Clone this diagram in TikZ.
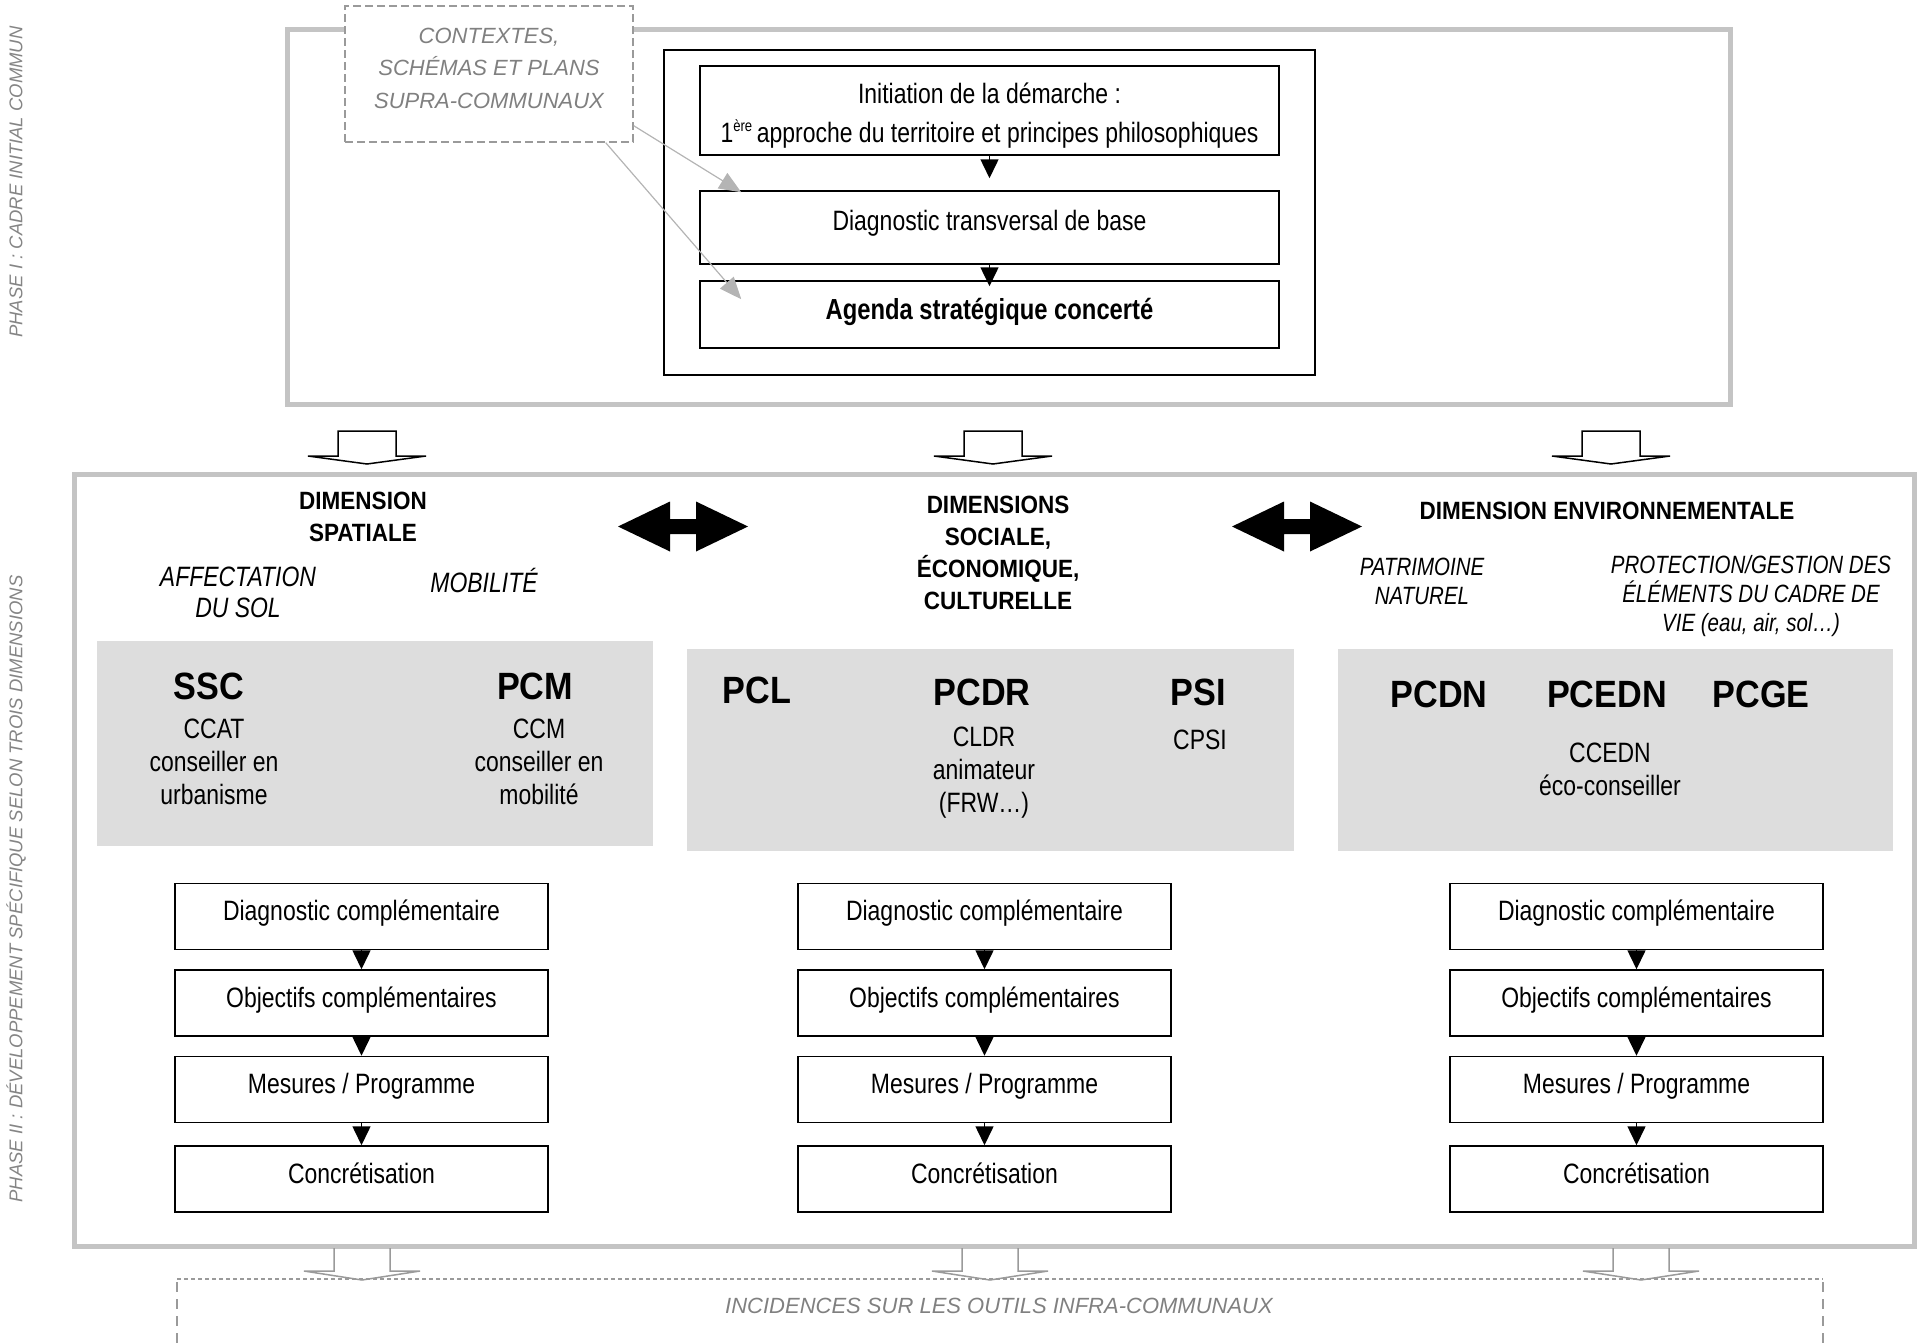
\documentclass[tikz,border=0pt]{standalone}
\usepackage{fontspec}
\setmainfont{Liberation Sans}
\newfontfamily\narrow{Liberation Sans}[FakeStretch=0.82]
\newfontfamily\boldnarrow{Liberation Sans}[FakeStretch=0.9]
\usetikzlibrary{arrows.meta,calc}

\definecolor{framegrey}{HTML}{C4C4C4}
\definecolor{panelgrey}{HTML}{DDDDDD}
\definecolor{notegrey}{HTML}{808080}
\definecolor{dashgrey}{HTML}{9A9A9A}
\definecolor{linkgrey}{HTML}{B4B4B4}
\definecolor{sidegrey}{HTML}{858585}

\newcommand{\supsmall}[1]{\raisebox{0.75ex}{\fontsize{8}{8}\selectfont #1}}

\begin{document}
\begin{tikzpicture}[x=0.5pt,y=-0.5pt,
  phaseframe/.style={draw=framegrey, line width=2.5pt, inner sep=0pt},
  stepbox/.style={draw, line width=0.75pt, minimum width=186.5pt, minimum height=33pt,
    inner sep=0pt, font=\narrow\fontsize{14}{16}\selectfont, text height=10pt, text depth=6pt},
  phasebox/.style={draw, line width=0.75pt, minimum width=289.5pt, inner sep=0pt,
    font=\narrow\fontsize{14}{19.5}\selectfont},
  panel/.style={fill=panelgrey, inner sep=0pt},
  code/.style={font=\boldnarrow\bfseries\fontsize{19}{22}\selectfont, inner sep=0pt},
  role/.style={font=\narrow\fontsize{14}{16.5}\selectfont, align=center, inner sep=0pt},
  head/.style={font=\boldnarrow\bfseries\fontsize{12.5}{16}\selectfont, align=center, inner sep=0pt},
  theme/.style={font=\narrow\itshape\fontsize{14}{15.5}\selectfont, align=center, inner sep=0pt},
  note/.style={text=notegrey, font=\itshape\fontsize{11}{16.25}\selectfont, align=center, inner sep=0pt},
  side/.style={text=sidegrey, font=\itshape\fontsize{9.25}{11}\selectfont, rotate=90, inner sep=0pt},
  flow/.style={line width=0.75pt, -{Triangle[length=9.5pt,width=9pt]}},
  link/.style={draw=linkgrey, line width=0.6pt, -{Triangle[length=11pt,width=9pt,fill=linkgrey]}},
  hollow/.style={draw=black, line width=0.75pt, fill=white, line join=miter},
  greyhollow/.style={draw=dashgrey, line width=0.75pt},
  doublearrow/.style={fill=black}
]
\useasboundingbox (0,0) rectangle (1917,1344);

% ---------- side captions ----------
\node[side] (ph1) at (16,182) {PHASE I : CADRE INITIAL COMMUN};
\node[side] (ph2) at (16,889) {PHASE II : DÉVELOPPEMENT SPÉCIFIQUE SELON TROIS DIMENSIONS};

% ---------- phase I ----------
\node[phaseframe, minimum width=721.5pt, minimum height=187.25pt] (phaseI) at (1009,216.75) {};
\node[draw=dashgrey, dash pattern=on 4pt off 2pt, line width=0.7pt, fill=white,
      minimum width=144pt, minimum height=68pt, inner sep=0pt] (ctx) at (489,74) {};
\node[note] (ctxtext) at (489,68) {CONTEXTES,\\SCHÉMAS ET PLANS\\SUPRA-COMMUNAUX};

\node[draw, line width=0.75pt, minimum width=325.5pt, minimum height=162.5pt, inner sep=0pt] (core) at (989.5,212.5) {};
\node[phasebox, minimum height=44.5pt] (init) at (989.5,110.5) {};
\node[font=\narrow\fontsize{14}{19.5}\selectfont, align=center, inner sep=0pt] (inittext) at (989.5,115.5)
  {Initiation de la démarche :\\1\supsmall{ère}\,approche du territoire et principes philosophiques};
\node[phasebox, minimum height=36.5pt, text height=10pt, text depth=7pt] (dtb) at (989.5,227.5) {Diagnostic transversal de base};
\node[phasebox, minimum height=33.5pt, text height=10.5pt, text depth=5.5pt, font=\narrow\bfseries\fontsize{14.5}{16}\selectfont] (asc) at (989.5,314.5) {Agenda stratégique concerté};

\draw[flow, shorten >=6pt] (init.south) -- (dtb.north);
\draw[flow, shorten >=-3pt] (dtb.south) -- (asc.north);

\draw[link] ($(ctx.south east)+(0,-17)$) -- ($(dtb.north west)+(42,2)$);
\draw[link] ($(ctx.south east)+(-28,0)$) -- ($(asc.north west)+(42,19)$);

% ---------- hollow arrows from phase I to phase II ----------
\foreach \cx in {367,993,1611} {
  \draw[hollow] (\cx-29,431) -- (\cx+29,431) -- (\cx+29,456) -- (\cx+59,456) -- (\cx,464)
    -- (\cx-59,456) -- (\cx-29,456) -- cycle;
}

% ---------- phase II ----------
\node[phaseframe, minimum width=920pt, minimum height=385.75pt] (phaseII) at (994,860.25) {};

% double arrows between the dimensions
\foreach \dx in {0,614} {
  \fill[doublearrow] (618+\dx,526.5) -- (670+\dx,501.5) -- (670+\dx,519) -- (696+\dx,519)
    -- (696+\dx,501.5) -- (748+\dx,526.5) -- (696+\dx,551.5) -- (696+\dx,534)
    -- (670+\dx,534) -- (670+\dx,551.5) -- cycle;
}

\node[head] (hspat) at (363,517) {DIMENSION\\SPATIALE};
\node[head] (hsoc) at (998,553) {DIMENSIONS\\SOCIALE,\\ÉCONOMIQUE,\\CULTURELLE};
\node[head] (henv) at (1607,511) {DIMENSION ENVIRONNEMENTALE};

\node[theme] (taff) at (238,592) {AFFECTATION\\DU SOL};
\node[theme] (tmob) at (484,580) {MOBILITÉ};
\node[theme, font=\narrow\itshape\fontsize{12.5}{14.5}\selectfont] (tpat) at (1422,581) {PATRIMOINE\\NATUREL};
\node[theme, font=\narrow\itshape\fontsize{12.5}{14.5}\selectfont] (tpro) at (1751,596)
  {PROTECTION/GESTION DES\\ÉLÉMENTS DU CADRE DE\\VIE (eau, air, sol…)};

% tool panels
\node[panel, minimum width=278pt, minimum height=102.5pt] (pspat) at (375,743.5) {};
\node[panel, minimum width=303.5pt, minimum height=101pt] (psoc) at (990.5,750) {};
\node[panel, minimum width=277.75pt, minimum height=101pt] (penv) at (1615.25,750) {};

\node[code] (ssc) at (209,686) {SSC};
\node[role] (ssct) at (214,762) {CCAT\\conseiller en\\urbanisme};
\node[code] (pcm) at (535,686) {PCM};
\node[role] (pcmt) at (539,762) {CCM\\conseiller en\\mobilité};

\node[code] (pcl) at (757,690) {PCL};
\node[code] (pcdr) at (982,692) {PCDR};
\node[role] (pcdrt) at (984,773) {CLDR\\animateur\\(FRW…)};
\node[code] (psi) at (1198,692) {PSI};
\node[role] (psit) at (1200,740) {CPSI};

\node[code] (pcdn) at (1439,694) {PCDN};
\node[code] (pcedn) at (1607,694) {PCEDN};
\node[code] (pcge) at (1761,694) {PCGE};
\node[role] (pcednt) at (1610,769.5) {CCEDN\\éco-conseiller};

% step sequences of each dimension
\foreach \col/\cx in {1/361.5, 2/984.5, 3/1636.5} {
  \node[stepbox] (diag\col) at (\cx,916.5) {Diagnostic complémentaire};
  \node[stepbox] (obj\col) at (\cx,1003) {Objectifs complémentaires};
  \node[stepbox] (mes\col) at (\cx,1089.5) {Mesures / Programme};
  \node[stepbox] (conc\col) at (\cx,1179) {Concrétisation};
  \draw[flow] (diag\col) -- (obj\col);
  \draw[flow] (obj\col) -- (mes\col);
  \draw[flow] (mes\col) -- (conc\col);
}

% ---------- consequences below ----------
\foreach \cx in {362,990,1641} {
  \draw[greyhollow] (\cx-28,1248) -- (\cx-28,1271) -- (\cx-58,1271) -- (\cx,1280)
    -- (\cx+58,1271) -- (\cx+28,1271) -- (\cx+28,1248);
}
\draw[dashgrey, line width=0.9pt, dash pattern=on 2pt off 1.5pt] (177,1279) -- (1823,1279);
\draw[dashgrey, line width=0.6pt, dash pattern=on 5pt off 3.5pt] (177,1282) -- (177,1350);
\draw[dashgrey, line width=0.6pt, dash pattern=on 5pt off 3.5pt] (1823,1282) -- (1823,1350);
\node[note] (inc) at (999,1306) {INCIDENCES SUR LES OUTILS INFRA-COMMUNAUX};

\end{tikzpicture}
\end{document}
